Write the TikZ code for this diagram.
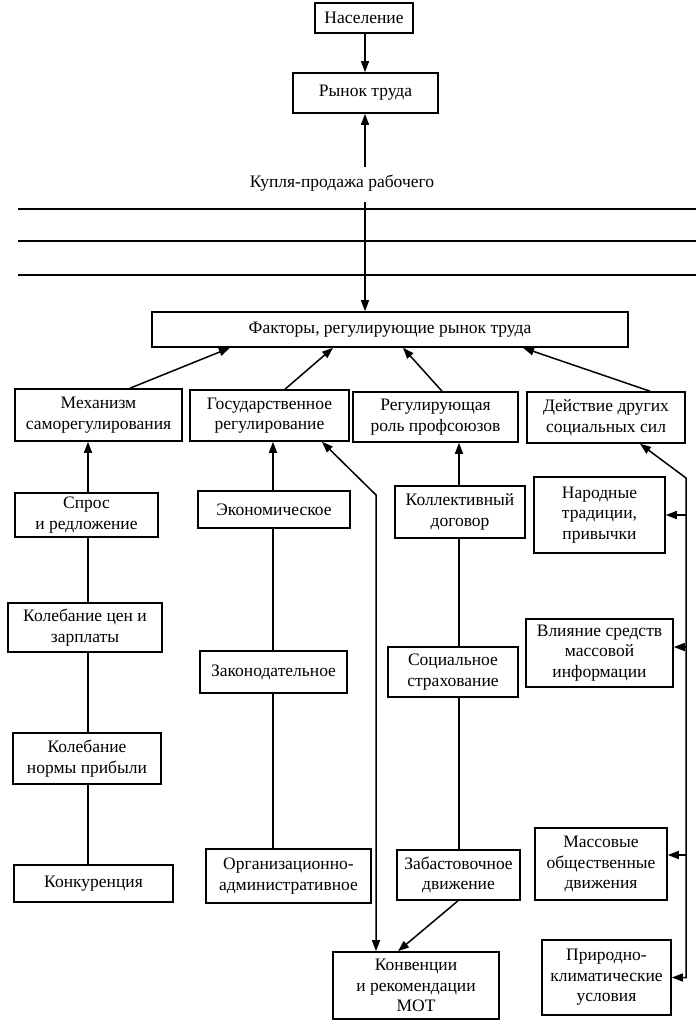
\documentclass[tikz,border=0pt]{standalone}
\usepackage{fontspec}
\setmainfont{Liberation Serif}
\usetikzlibrary{arrows.meta,calc}
\begin{document}
\begin{tikzpicture}[x=1pt,y=-1pt,
  box/.style={draw, line width=1.6pt, align=center, inner sep=0pt,
    font=\fontsize{17.5}{20.5}\selectfont},
  lbl/.style={inner sep=0pt, font=\fontsize{17.5}{20.5}\selectfont},
  conn/.style={line width=1.5pt},
  tip/.tip={Triangle[length=11pt,width=8pt]},
  arr/.style={conn, -tip},
  barr/.style={conn, tip-tip},
  rule/.style={line width=1.8pt}]
\useasboundingbox (0,0) rectangle (700,1026);

% top
\node[box, minimum width=98pt, minimum height=30pt] (nas) at (364,18) {Население};
\node[box, minimum width=145pt, minimum height=40pt] (rynok) at (365.5,93) {Рынок труда};
\node[lbl] (kup) at (342,183) {Купля-продажа рабочего};
\coordinate (kupup) at (365,167);
\coordinate (facin) at (365,202);

% rules
\coordinate (r1a) at (18,209); \coordinate (r1b) at (696,209);
\coordinate (r2a) at (18,241); \coordinate (r2b) at (696,241);
\coordinate (r3a) at (18,275); \coordinate (r3b) at (696,275);
\draw[rule] (r1a) -- (r1b);
\draw[rule] (r2a) -- (r2b);
\draw[rule] (r3a) -- (r3b);

\node[box, minimum width=476pt, minimum height=35pt] (fac) at (390,329.5) {Факторы, регулирующие рынок труда};

% second level
\node[box, minimum width=167pt, minimum height=52pt] (mech) at (98.5,415) {Механизм\\саморегулирования};
\node[box, minimum width=159pt, minimum height=51pt] (gos) at (269.5,415.5) {Государственное\\регулирование};
\node[box, minimum width=165pt, minimum height=50pt] (reg) at (435.5,417) {Регулирующая\\роль профсоюзов};
\node[box, minimum width=158pt, minimum height=51pt] (dey) at (606,417.5) {Действие других\\социальных сил};

% column 1
\node[box, minimum width=143pt, minimum height=44pt] (spros) at (86.5,515) {Спрос\\и редложение};
\node[box, minimum width=154pt, minimum height=49pt] (kolcen) at (85,627.5) {Колебание цен и\\зарплаты};
\node[box, minimum width=148pt, minimum height=51pt] (kolnorm) at (87,758.5) {Колебание\\нормы прибыли};
\node[box, minimum width=159pt, minimum height=37pt] (konk) at (93.5,883.5) {Конкуренция};

% column 2
\node[box, minimum width=152pt, minimum height=37pt] (econ) at (274,509.5) {Экономическое};
\node[box, minimum width=147pt, minimum height=42pt] (zakon) at (273.5,672) {Законодательное};
\node[box, minimum width=165pt, minimum height=54pt] (org) at (288.5,876) {Организационно-\\административное};

% column 3
\node[box, minimum width=130pt, minimum height=52pt] (koll) at (460,512) {Коллективный\\договор};
\node[box, minimum width=130pt, minimum height=50pt] (soc) at (453,672) {Социальное\\страхование};
\node[box, minimum width=123pt, minimum height=50pt] (zab) at (458.5,875) {Забастовочное\\движение};
\node[box, minimum width=166pt, minimum height=67pt] (konv) at (416,985.5) {Конвенции\\и рекомендации\\МОТ};

% column 4
\node[box, minimum width=131pt, minimum height=76pt] (narod) at (599.5,515) {Народные\\традиции,\\привычки};
\node[box, minimum width=147pt, minimum height=68pt] (vliyan) at (599.5,653) {Влияние средств\\массовой\\информации};
\node[box, minimum width=132pt, minimum height=72pt] (massov) at (601,864) {Массовые\\общественные\\движения};
\node[box, minimum width=129pt, minimum height=75pt] (prirod) at (606.5,977.5) {Природно-\\климатические\\условия};

% top connectors
\draw[arr] (nas.south -| 365,0) -- (rynok.north -| 365,0);
\draw[arr] (kupup) -- (rynok.south -| kupup);
\draw[arr] (facin) -- (fac.north -| facin);

% to factors
\draw[arr] (mech.north -| 130,0) -- (fac.south -| 230,0);
\draw[arr] (gos.north -| 285,0) -- (fac.south -| 333,0);
\draw[arr] (reg.north -| 442,0) -- (fac.south -| 403,0);
\draw[arr] (dey.north -| 650,0) -- (fac.south -| 523,0);

% column 1 chain
\draw[arr] (spros.north -| 88,0) -- (mech.south -| 88,0);
\draw[conn] (spros.south -| 88,0) -- (kolcen.north -| 88,0);
\draw[conn] (kolcen.south -| 88,0) -- (kolnorm.north -| 88,0);
\draw[conn] (kolnorm.south -| 88,0) -- (konk.north -| 88,0);

% column 2 chain
\draw[arr] (econ.north -| 273,0) -- (gos.south -| 273,0);
\draw[conn] (econ.south -| 273,0) -- (zakon.north -| 273,0);
\draw[conn] (zakon.south -| 273,0) -- (org.north -| 273,0);

% column 3 chain
\draw[arr] (koll.north -| 459,0) -- (reg.south -| 459,0);
\draw[conn] (koll.south -| 459,0) -- (soc.north -| 459,0);
\draw[conn] (soc.south -| 459,0) -- (zab.north -| 459,0);

% gos <-> konv
\draw[barr] (gos.south -| 322,0) -- (376,495) -- (konv.north -| 376,0);
\draw[arr] (zab.south -| 458,0) -- (konv.north -| 398,0);

% right side
\draw[barr] (dey.south -| 640,0) -- (686,478) -- (686,977.5) -- (prirod.east);
\draw[arr] (686,0 |- narod.east) -- (narod.east);
\draw[arr] (686,647) -- (vliyan.east |- 0,647);
\draw[arr] (686,855) -- (massov.east |- 0,855);
\end{tikzpicture}
\end{document}
